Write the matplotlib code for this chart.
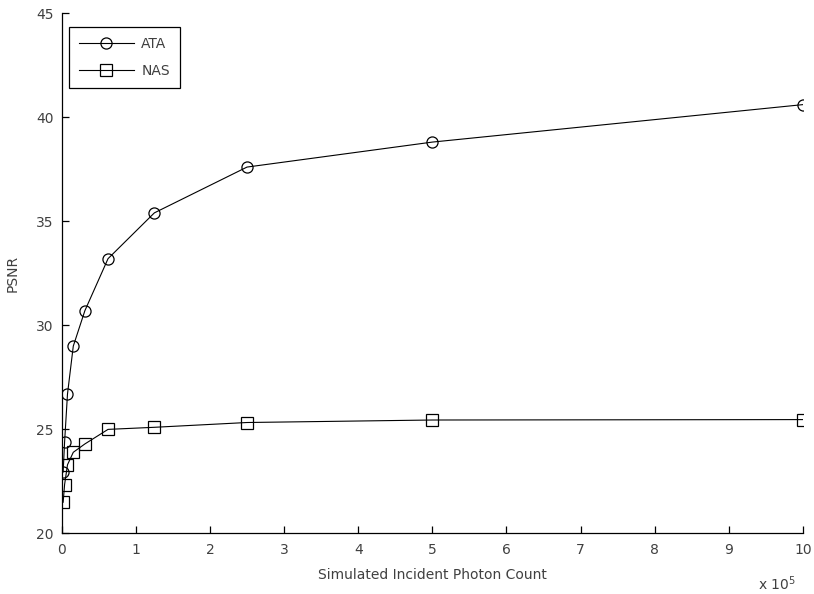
import matplotlib
matplotlib.use("Agg")
import matplotlib.pyplot as plt
from matplotlib.ticker import FuncFormatter, MultipleLocator

photon_counts = [1953.125, 3906.25, 7812.5, 15625, 31250, 62500, 125000, 250000, 500000, 1000000]
ata_psnr = [22.95, 24.4, 26.7, 29.0, 30.7, 33.2, 35.4, 37.6, 38.8, 40.6]
nas_psnr = [21.5, 22.35, 23.3, 23.9, 24.3, 25.0, 25.1, 25.33, 25.45, 25.47]
series_names = ["ATA", "NAS"]

text_color = "#404040"
plt.rcParams["font.family"] = ["DejaVu Sans"]

fig = plt.figure(figsize=(8.14, 5.94), dpi=100)
ax = fig.add_axes([0.0758, 0.1019, 0.9107, 0.8762])

ax.plot(photon_counts, ata_psnr, color="black", lw=0.8, marker="o", ms=8,
        mfc="none", mec="black", mew=0.9, label=series_names[0])
ax.plot(photon_counts, nas_psnr, color="black", lw=0.8, marker="s", ms=9,
        mfc="none", mec="black", mew=0.9, label=series_names[1])

ax.set_xlim(0, 1e6)
ax.set_ylim(20, 45)
ax.xaxis.set_major_locator(MultipleLocator(1e5))
ax.yaxis.set_major_locator(MultipleLocator(5))
ax.xaxis.set_major_formatter(FuncFormatter(lambda v, p: f"{v/1e5:.0f}"))

for s in ["top", "right"]:
    ax.spines[s].set_visible(False)
for s in ["left", "bottom"]:
    ax.spines[s].set_linewidth(0.9)
    ax.spines[s].set_color("black")

ax.tick_params(direction="in", length=5, width=0.9, color="black",
               labelsize=10, labelcolor=text_color, pad=6)
ax.tick_params(axis="x", pad=7)

ax.set_xlabel("Simulated Incident Photon Count", fontsize=10, color=text_color, labelpad=8)
ax.set_ylabel("PSNR", fontsize=10, color=text_color, labelpad=12)

fig.text(758 / 814, 1 - 590 / 594, "x 10$^{5}$", fontsize=10, color=text_color,
         ha="left", va="baseline")

leg = ax.legend(loc="upper left", bbox_to_anchor=(0.0098, 0.973), borderaxespad=0,
                fancybox=False, framealpha=1, edgecolor="black", fontsize=10,
                handlelength=4.0, handletextpad=0.5, borderpad=0.7, labelspacing=0.95)
leg.get_frame().set_linewidth(0.9)
for t in leg.get_texts():
    t.set_color(text_color)

fig.savefig("out.png", dpi=100)
